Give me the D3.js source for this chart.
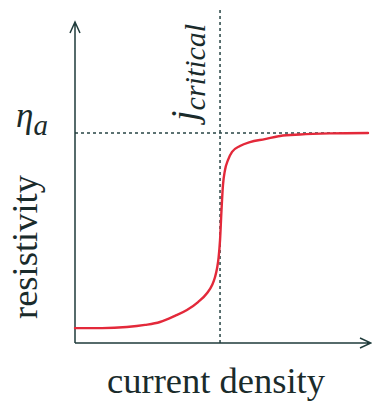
<!DOCTYPE html>
<html>
<head>
<meta charset="utf-8">
<script src="https://cdn.jsdelivr.net/npm/d3@7"></script>
<style>
  body { margin: 0; background: #fff; }
  svg { display: block; }
</style>
</head>
<body>
<svg id="chart"></svg>
<script>
// current density (arbitrary units) and resistivity (fraction of eta_a)
const density = [0, 0.92, 1.77, 2.39, 2.90, 3.41, 3.82, 4.20, 4.51, 4.68, 4.78, 4.85, 4.90,
  4.95, 5.0, 5.05, 5.12, 5.22, 5.36, 5.63, 5.97, 6.48, 7.0, 7.68, 8.70, 10];
const resistivity = [0.071, 0.071, 0.076, 0.086, 0.10, 0.129, 0.157, 0.195, 0.238, 0.276, 0.314, 0.357, 0.405,
  0.49, 0.633, 0.752, 0.824, 0.871, 0.91, 0.938, 0.957, 0.971, 0.986, 0.993, 0.998, 1.0];
const jCritical = 4.95;
const etaA = 1.0;

const width = 372;
const height = 403;
const axisColor = '#1f3b3b';
const dashColor = '#274444';
const curveColor = '#e3293a';
const textColor = '#1a2b2b';

const svg = d3.select('#chart')
  .attr('width', width)
  .attr('height', height);

const x = d3.scaleLinear()
  .domain([0, 10])
  .range([75, 368]);

const y = d3.scaleLinear()
  .domain([0, 1])
  .range([343, 133]);

// dashed guides
svg.append('line')
  .attr('x1', x(jCritical)).attr('x2', x(jCritical))
  .attr('y1', 10).attr('y2', y(0))
  .attr('stroke', dashColor)
  .attr('stroke-width', 1.5)
  .attr('stroke-dasharray', '3,3');

svg.append('line')
  .attr('x1', x(0)).attr('x2', x(10))
  .attr('y1', y(etaA)).attr('y2', y(etaA))
  .attr('stroke', dashColor)
  .attr('stroke-width', 1.5)
  .attr('stroke-dasharray', '3,3');

// axes with open arrow heads
svg.append('path')
  .attr('d', `M${x(0)},${y(0)}V22M${x(0) - 5},33L${x(0)},22L${x(0) + 5},33`)
  .attr('fill', 'none')
  .attr('stroke', axisColor)
  .attr('stroke-width', 1.5);

svg.append('path')
  .attr('d', `M${x(0)},${y(0)}H371M360,${y(0) - 5}L371,${y(0)}L360,${y(0) + 5}`)
  .attr('fill', 'none')
  .attr('stroke', axisColor)
  .attr('stroke-width', 1.5);

// resistivity curve
const line = d3.line()
  .x((d, i) => x(density[i]))
  .y(d => y(d))
  .curve(d3.curveMonotoneX);

svg.append('path')
  .datum(resistivity)
  .attr('fill', 'none')
  .attr('stroke', curveColor)
  .attr('stroke-width', 2.4)
  .attr('stroke-linecap', 'round')
  .attr('d', line);

// labels
const label = (sel) => sel
  .attr('fill', textColor)
  .style('font-family', "'Liberation Serif', 'Times New Roman', serif");

const eta = svg.append('text')
  .call(label)
  .attr('x', 16)
  .attr('y', 127)
  .style('font-style', 'italic')
  .style('font-size', '35px');
eta.append('tspan').text('η');
eta.append('tspan').attr('dy', 8).style('font-size', '29px').text('a');

const jLabel = svg.append('text')
  .call(label)
  .attr('transform', `translate(${x(jCritical) - 23},121) rotate(-90)`)
  .style('font-style', 'italic')
  .style('font-size', '38px');
jLabel.append('tspan').text('j');
jLabel.append('tspan').attr('dy', 8).style('font-size', '30px').text('critical');

svg.append('text')
  .call(label)
  .attr('transform', 'translate(37,247) rotate(-90)')
  .attr('text-anchor', 'middle')
  .style('font-size', '36.5px')
  .text('resistivity');

svg.append('text')
  .call(label)
  .attr('x', 216)
  .attr('y', 393)
  .attr('text-anchor', 'middle')
  .style('font-size', '36.5px')
  .text('current density');
</script>
</body>
</html>
